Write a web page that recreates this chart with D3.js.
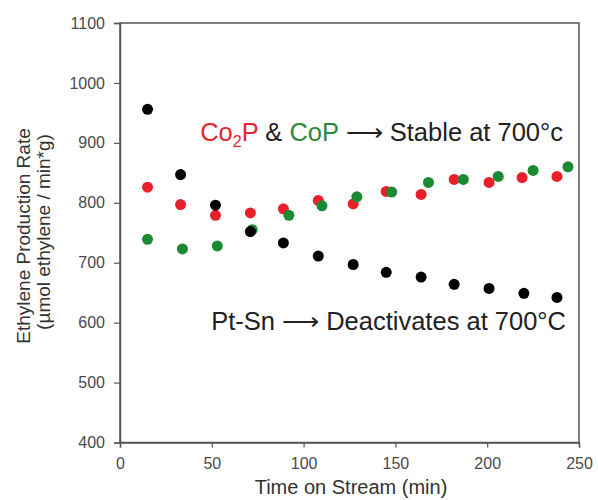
<!DOCTYPE html>
<html>
<head>
<meta charset="utf-8">
<script src="https://cdn.jsdelivr.net/npm/d3@7"></script>
<style>
  body { margin: 0; background: #fff; }
  svg text { font-family: "Liberation Sans", Arial, sans-serif; }
</style>
</head>
<body>
<div id="chart"></div>
<script>
// time on stream (min) and ethylene rate for each catalyst
const ptsnTime = [15, 33, 52, 71, 89, 108, 127, 145, 164, 182, 201, 220, 238];
const ptsnRate = [956, 847, 796, 752, 733, 711, 697, 684, 676, 664, 657, 649, 642];
const co2pTime = [15, 33, 52, 71, 89, 108, 127, 145, 164, 182, 201, 219, 238];
const co2pRate = [826, 797, 779, 783, 790, 804, 798, 819, 814, 839, 834, 842, 844];
const copTime = [15, 34, 53, 72, 92, 110, 129, 148, 168, 187, 206, 225, 244];
const copRate = [739, 723, 728, 755, 779, 795, 810, 818, 834, 839, 844, 854, 860];

const xTicks = [0, 50, 100, 150, 200, 250];
const yTicks = [400, 500, 600, 700, 800, 900, 1000, 1100];

const margin = {top: 23, right: 19, bottom: 57.5, left: 120},
    width = 598 - margin.left - margin.right,
    height = 500 - margin.top - margin.bottom;

const svg = d3.select("#chart")
    .append("svg")
    .attr("width", 598)
    .attr("height", 500)
      .append("g")
      .attr("transform", `translate(${margin.left},${margin.top})`);

const xScale = d3.scaleLinear().domain([0, 250]).range([0, width]);
const yScale = d3.scaleLinear().domain([400, 1100]).range([height, 0]);

// frame
svg.append("rect")
    .attr("x", 0).attr("y", 0)
    .attr("width", width).attr("height", height)
    .attr("fill", "none")
    .attr("stroke", "#555")
    .attr("stroke-width", 1.5);

// axes
const xAxis = svg.append("g")
    .attr("transform", `translate(0, ${height})`)
    .call(d3.axisBottom(xScale).tickValues(xTicks).tickFormat(d3.format("d")).tickSize(5).tickPadding(10));
const yAxis = svg.append("g")
    .call(d3.axisLeft(yScale).tickValues(yTicks).tickFormat(d3.format("d")).tickSize(6).tickPadding(9));

[xAxis, yAxis].forEach(function(a) {
    a.select(".domain").attr("stroke", "#555").attr("stroke-width", 1.5);
    a.selectAll(".tick line").attr("stroke", "#555").attr("stroke-width", 1.2);
    a.selectAll(".tick text")
        .attr("fill", "#4a4a4a")
        .style("font-size", "16px");
});

// points
function drawSeries(times, rates, color) {
    svg.selectAll(null)
        .data(times.map((t, i) => ({t: t, r: rates[i]})))
        .enter().append("circle")
        .attr("cx", d => xScale(d.t))
        .attr("cy", d => yScale(d.r))
        .attr("r", 5.5)
        .style("fill", color);
}
drawSeries(co2pTime, co2pRate, "#e8202a");
drawSeries(copTime, copRate, "#1b8a32");
drawSeries(ptsnTime, ptsnRate, "#000");

// annotations
const note1 = svg.append("text")
    .attr("x", 443)
    .attr("y", 118)
    .attr("text-anchor", "end")
    .style("font-size", "25.5px");
note1.append("tspan").attr("fill", "#e8262b").text("Co");
note1.append("tspan").attr("fill", "#e8262b").attr("dy", 6).style("font-size", "16px").text("2");
note1.append("tspan").attr("fill", "#e8262b").attr("dy", -6).text("P");
note1.append("tspan").attr("fill", "#222").text(" & ");
note1.append("tspan").attr("fill", "#2a8a3a").text("CoP");
note1.append("tspan").attr("fill", "#222").text(" \u27f6 Stable at 700°c");

svg.append("text")
    .attr("x", 446)
    .attr("y", 307)
    .attr("text-anchor", "end")
    .attr("fill", "#222")
    .style("font-size", "25.5px")
    .text("Pt-Sn \u27f6 Deactivates at 700°C");

// axis titles
svg.append("text")
    .attr("x", 231)
    .attr("y", height + 51.5)
    .attr("text-anchor", "middle")
    .attr("fill", "#333")
    .style("font-size", "20px")
    .text("Time on Stream (min)");

svg.append("text")
    .attr("transform", "rotate(-90)")
    .attr("x", -213)
    .attr("y", -90)
    .attr("text-anchor", "middle")
    .attr("fill", "#333")
    .style("font-size", "19px")
    .text("Ethylene Production Rate");

svg.append("text")
    .attr("transform", "rotate(-90)")
    .attr("x", -209)
    .attr("y", -70)
    .attr("text-anchor", "middle")
    .attr("fill", "#333")
    .style("font-size", "19px")
    .text("(\u00b5mol ethylene / min*g)");
</script>
</body>
</html>
